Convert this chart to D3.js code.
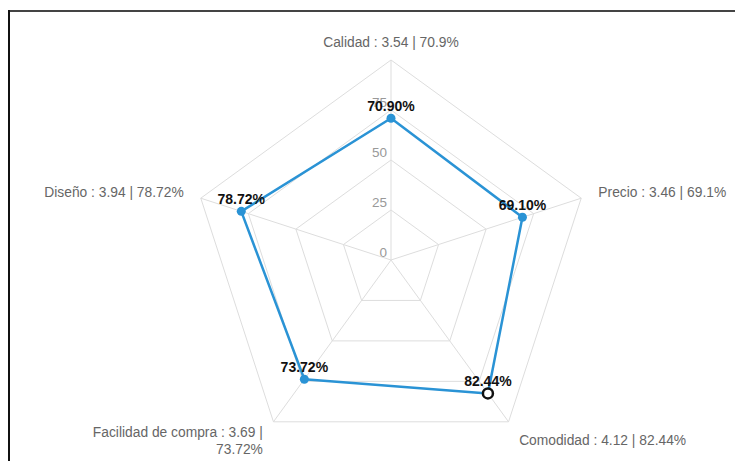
<!DOCTYPE html>
<html>
<head>
<meta charset="utf-8">
<script src="https://cdn.jsdelivr.net/npm/d3@7/dist/d3.min.js"></script>
<style>
html,body{margin:0;padding:0;background:#fff;}
svg{display:block;font-family:"Liberation Sans",Arial,sans-serif;}
</style>
</head>
<body>
<svg id="chart" width="735" height="461"></svg>
<script>
const categories = ["Calidad", "Precio", "Comodidad", "Facilidad de compra", "Diseño"];
const scores = [3.54, 3.46, 4.12, 3.69, 3.94];
const percents = [70.9, 69.1, 82.44, 73.72, 78.72];
const tickValues = [0, 25, 50, 75];
const ringLevels = [25, 50, 75, 100];

const svg = d3.select("#chart");
const W = 735, H = 461;
const cx = 391, cy = 260;
const r = d3.scaleLinear().domain([0, 100]).range([0, 200]);
const n = categories.length;
const angle = i => (i / n) * 2 * Math.PI;
const pt = (i, v) => [cx + r(v) * Math.sin(angle(i)), cy - r(v) * Math.cos(angle(i))];

// frame
svg.append("line").attr("x1", 8).attr("x2", W).attr("y1", 11).attr("y2", 11)
  .attr("stroke", "#444").attr("stroke-width", 2);
svg.append("line").attr("x1", 9).attr("x2", 9).attr("y1", 10).attr("y2", H)
  .attr("stroke", "#111").attr("stroke-width", 2);

const grid = svg.append("g");
ringLevels.forEach(lv => {
  grid.append("path")
    .attr("d", d3.line()(d3.range(n).map(i => pt(i, lv))) + "Z")
    .attr("fill", "none").attr("stroke", "#dddddd").attr("stroke-width", 1);
});
d3.range(n).forEach(i => {
  const [x, y] = pt(i, 100);
  grid.append("line").attr("x1", cx).attr("y1", cy).attr("x2", x).attr("y2", y)
    .attr("stroke", "#dddddd").attr("stroke-width", 1);
});
tickValues.forEach(t => {
  svg.append("text").attr("x", cx - 4).attr("y", cy - r(t) - 3)
    .attr("text-anchor", "end").attr("font-size", 13.5).attr("fill", "#999")
    .text(t);
});

const labelLines = categories.map((c, i) => {
  const full = `${c} : ${scores[i]} | ${percents[i]}%`;
  if (c === "Facilidad de compra") return [`${c} : ${scores[i]} |`, `${percents[i]}%`];
  return [full];
});
categories.forEach((c, i) => {
  const a = angle(i);
  const s = Math.sin(a), co = Math.cos(a);
  const x = cx + 218 * s, y = cy - 218 * co;
  const anchor = Math.abs(s) < 0.1 ? "middle" : (s > 0 ? "start" : "end");
  const lines = labelLines[i];
  const lh = 17;
  let y0 = y + (co < -0.5 ? 4 : 0) - (lines.length - 1) * lh / 2;
  const t = svg.append("text").attr("font-size", 13.8).attr("fill", "#666")
    .attr("text-anchor", anchor);
  lines.forEach((ln, k) => {
    t.append("tspan").attr("x", x).attr("y", y0 + k * lh).attr("dy", "0.35em").text(ln);
  });
});

const lineColor = "#2a93d5";
const pts = percents.map((v, i) => pt(i, v));
svg.append("path").attr("d", d3.line()(pts) + "Z")
  .attr("fill", "none").attr("stroke", lineColor).attr("stroke-width", 2.5)
  .attr("stroke-linejoin", "round");

pts.forEach(([x, y], i) => {
  if (i === 2) {
    svg.append("circle").attr("cx", x).attr("cy", y).attr("r", 5)
      .attr("fill", "#fff").attr("stroke", "#111").attr("stroke-width", 2.5);
  } else {
    svg.append("circle").attr("cx", x).attr("cy", y).attr("r", 4.5)
      .attr("fill", lineColor);
  }
});

pts.forEach(([x, y], i) => {
  svg.append("text").attr("x", x).attr("y", y - 7)
    .attr("text-anchor", "middle").attr("font-size", 14).attr("font-weight", "bold")
    .attr("fill", "#111")
    .text(percents[i].toFixed(2) + "%");
});
</script>
</body>
</html>
